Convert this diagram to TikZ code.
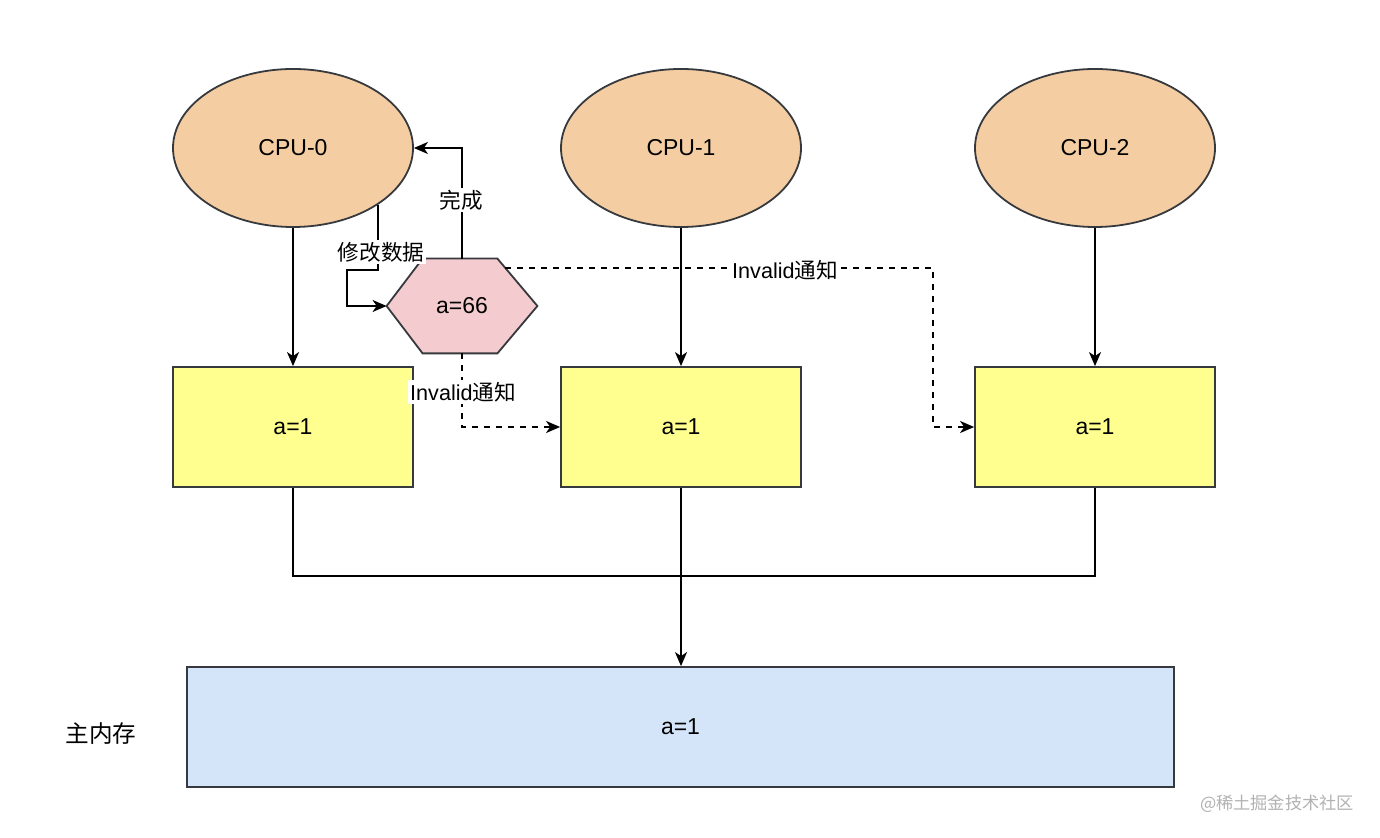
\documentclass[tikz,border=0pt]{standalone}
\usepackage{fontspec}
\setmainfont{Liberation Sans}
\newfontfamily\cjk{Noto Sans CJK SC}
\usetikzlibrary{arrows.meta,positioning,shapes.geometric}
\definecolor{cpufill}{HTML}{F5CDA2}
\definecolor{cachefill}{HTML}{FFFF8F}
\definecolor{memfill}{HTML}{D5E5F9}
\definecolor{hexfill}{HTML}{F4CCCF}
\definecolor{edge}{HTML}{36393D}
\tikzset{
  cpu/.style={ellipse, draw=edge, line width=0.9pt, fill=cpufill, minimum width=120pt, minimum height=79pt, font=\fontsize{11.5}{13}\selectfont, inner sep=0pt},
  cache/.style={rectangle, draw=edge, line width=0.9pt, fill=cachefill, minimum width=120pt, minimum height=60pt, font=\fontsize{11.5}{13}\selectfont},
  mem/.style={rectangle, draw=edge, line width=0.9pt, fill=memfill, minimum width=493.5pt, minimum height=60pt, font=\fontsize{11.5}{13}\selectfont},
  conn/.style={draw=black, line width=0.7pt, -{Stealth[length=7pt,width=6pt,inset=2pt]}},
  plain/.style={draw=black, line width=0.7pt},
  dconn/.style={draw=black, line width=0.7pt, dash pattern=on 3pt off 3pt, -{Stealth[length=7pt,width=6pt,inset=2pt]}},
  lbl/.style={fill=white, inner sep=1pt, font=\fontsize{10.8}{12}\selectfont},
}
\begin{document}
\begin{tikzpicture}[x=0.5pt,y=-0.5pt]
\useasboundingbox[fill=white] (0,0) rectangle (1380,838);
% CPUs
\node[cpu] (cpu0) at (293,148) {CPU-0};
\node[cpu] (cpu1) at (681,148) {CPU-1};
\node[cpu] (cpu2) at (1095,148) {CPU-2};
% caches
\node[cache] (c0) at (293,427) {a=1};
\node[cache] (c1) at (681,427) {a=1};
\node[cache] (c2) at (1095,427) {a=1};
% memory
\node[mem] (mem) at (680.5,727) {a=1};
\node[font=\cjk\fontsize{11.8}{13}\selectfont] (memlbl) at (101,734) {主内存};
% hexagon
\node[minimum width=75pt, minimum height=47pt, inner sep=0pt] (hex) at (462,306) {};
\draw[draw=edge, line width=0.9pt, fill=hexfill]
  (hex.west) -- ([xshift=18pt]hex.north west) -- ([xshift=-20pt]hex.north east)
  -- (hex.east) -- ([xshift=-20pt]hex.south east) -- ([xshift=18pt]hex.south west) -- cycle;
\node[font=\fontsize{11.5}{13}\selectfont] (hextext) at (hex) {a=66};
% CPU to cache
\draw[conn] (cpu0.south) -- (c0.north);
\draw[conn] (cpu1.south) -- (c1.north);
\draw[conn] (cpu2.south) -- (c2.north);
% cache to memory
\coordinate (bl) at (293,576);
\coordinate (br) at (1095,576);
\draw[plain] (c0.south) -- (bl) -- (br) -- (c2.south);
\draw[conn] (c1.south) -- (c1.south |- mem.north);
% modify
\coordinate (m0) at (378,205);
\coordinate (m1) at (378,270);
\coordinate (m2) at (347,270);
\coordinate (m3) at (347,306);
\draw[conn] (m0) -- (m1) -- (m2) -- (m3) -- (hex.west);
\node[lbl, font=\cjk\fontsize{10.8}{12}\selectfont] (lmod) at (381,252) {修改数据};
% done
\coordinate (d1) at (462,148);
\draw[conn] (hex.north) -- (d1) -- (cpu0.east);
\node[lbl, font=\cjk\fontsize{10.8}{12}\selectfont] (ldone) at (461,200) {完成};
% invalid to cache1
\coordinate (i1) at (462,427);
\draw[dconn] (hex.south) -- (i1) -- (c1.west);
\node[lbl] (linv1) at (463,392) {Invalid{\cjk 通知}};
% invalid to cache2
\coordinate (i2s) at (505,268);
\coordinate (i2a) at (933,268);
\coordinate (i2b) at (933,427);
\draw[dconn] (i2s) -- (i2a) -- (i2b) -- (c2.west);
\node[lbl] (linv2) at (785,270) {Invalid{\cjk 通知}};
% watermark
\node[font=\cjk\fontsize{8.6}{10}\selectfont, text=black!30] (wm) at (1277,804) {@稀土掘金技术社区};
\end{tikzpicture}
\end{document}
